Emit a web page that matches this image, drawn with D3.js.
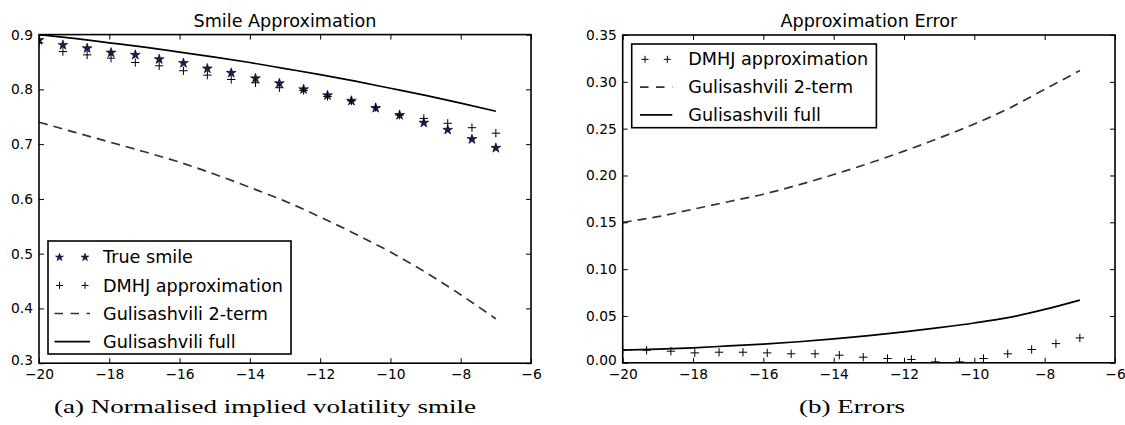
<!DOCTYPE html>
<html><head><meta charset="utf-8">
<script src="https://cdn.jsdelivr.net/npm/d3@7"></script>
<style>
body{margin:0;background:#fff;}
svg{display:block;}
text{font-family:"DejaVu Sans",sans-serif;fill:#000;}
.cap{font-family:"Liberation Serif","DejaVu Serif",serif;}
</style></head><body>
<svg id="c" width="1125" height="425"></svg>
<script>
// ---------- data ----------
const xPts = [-20, -19.32, -18.63, -17.95, -17.26, -16.58, -15.89, -15.21, -14.53, -13.84,
              -13.16, -12.47, -11.79, -11.11, -10.42, -9.74, -9.05, -8.37, -7.68, -7.0];
const trueSmile = [0.890, 0.881, 0.875, 0.867, 0.863, 0.855, 0.848, 0.838, 0.830, 0.820,
                   0.811, 0.800, 0.789, 0.779, 0.766, 0.753, 0.739, 0.726, 0.709, 0.693];
const dmhjSmile = [0.885, 0.869, 0.863, 0.857, 0.849, 0.843, 0.834, 0.826, 0.818, 0.812,
                   0.803, 0.798, 0.787, 0.779, 0.767, 0.753, 0.747, 0.738, 0.730, 0.720];
const xLine = [-20, -19, -18, -17, -16, -15, -14, -13, -12, -11, -10, -9, -8, -7];
const gul2Smile = [0.740, 0.722, 0.704, 0.686, 0.667, 0.645, 0.621, 0.596, 0.567, 0.536, 0.503, 0.466, 0.425, 0.381];
const gulFullSmile = [0.900, 0.893, 0.885, 0.877, 0.868, 0.859, 0.849, 0.838, 0.827, 0.815, 0.802, 0.789, 0.775, 0.760];
const dmhjErr = [0.014, 0.0134, 0.0124, 0.0106, 0.0113, 0.0113, 0.0106, 0.0096, 0.0096, 0.0081,
                 0.0060, 0.0046, 0.0035, 0.0010, 0.0010, 0.0046, 0.0096, 0.0142, 0.0205, 0.0266];
const gul2Err = [0.150, 0.156, 0.164, 0.172, 0.180, 0.190, 0.201, 0.213, 0.226, 0.240, 0.255, 0.272, 0.292, 0.312];
const gulFullErr = [0.0135, 0.0145, 0.016, 0.018, 0.020, 0.0225, 0.0255, 0.029, 0.033, 0.0375, 0.0425, 0.0485, 0.057, 0.067];
const xTicks = [-20, -18, -16, -14, -12, -10, -8, -6];
const yTicksA = [0.3, 0.4, 0.5, 0.6, 0.7, 0.8, 0.9];
const yTicksB = [0, 0.05, 0.10, 0.15, 0.20, 0.25, 0.30, 0.35];
const titles = ["Smile Approximation", "Approximation Error"];
const captions = ["(a) Normalised implied volatility smile", "(b) Errors"];
const legendA = ["True smile", "DMHJ approximation", "Gulisashvili 2-term", "Gulisashvili full"];
const legendB = ["DMHJ approximation", "Gulisashvili 2-term", "Gulisashvili full"];

const svg = d3.select("#c");
const fmtMinus = s => s.replace("-", "\u2212");
const starPath = d3.symbol(d3.symbolStar);

function crossPath(s){ return `M${-s},0H${s}M0,${-s}V${s}`; }

const capNodes = [];

function panel(cfg){
  const g = svg.append("g");
  const x = d3.scaleLinear().domain([-20, -6]).range([cfg.x0, cfg.x1]);
  const y = d3.scaleLinear().domain(cfg.yDom).range([cfg.y1, cfg.y0]);
  const clipId = "clip" + cfg.id;
  svg.append("clipPath").attr("id", clipId).append("rect")
    .attr("x", cfg.x0).attr("y", cfg.y0).attr("width", cfg.x1 - cfg.x0).attr("height", cfg.y1 - cfg.y0);
  const plot = g.append("g").attr("clip-path", `url(#${clipId})`);

  // lines
  const line = d3.line().x((d, i) => x(xLine[i])).y(d => y(d)).curve(d3.curveMonotoneX);
  plot.append("path").datum(cfg.dash).attr("d", line).attr("fill", "none")
    .attr("stroke", "#333").attr("stroke-width", 1.7).attr("stroke-dasharray", "9,6");
  plot.append("path").datum(cfg.solid).attr("d", line).attr("fill", "none")
    .attr("stroke", "#000").attr("stroke-width", 1.7);

  // stars
  if (cfg.stars) {
    plot.selectAll(".st").data(cfg.stars).enter().append("path")
      .attr("d", starPath.size(30)())
      .attr("transform", (d, i) => `translate(${x(xPts[i])},${y(d)})`)
      .attr("fill", "#1b1b5e").attr("stroke", "#000").attr("stroke-width", 0.6);
  }
  // pluses
  plot.selectAll(".pl").data(cfg.plus).enter().append("path")
    .attr("d", crossPath(4.2))
    .attr("transform", (d, i) => `translate(${x(xPts[i])},${y(d)})`)
    .attr("stroke", "#000").attr("stroke-width", 1).attr("fill", "none");

  // frame
  g.append("rect").attr("x", cfg.x0).attr("y", cfg.y0).attr("width", cfg.x1 - cfg.x0)
    .attr("height", cfg.y1 - cfg.y0).attr("fill", "none").attr("stroke", "#000").attr("stroke-width", 1.6);

  // axes: inward ticks on all sides
  const tl = 5;
  const fs = cfg.fs;
  const xb = g.append("g").attr("transform", `translate(0,${cfg.y1})`)
    .call(d3.axisBottom(x).tickValues(xTicks).tickSizeInner(-tl).tickSizeOuter(0).tickPadding(6).tickFormat(d => fmtMinus(String(d))));
  const xt = g.append("g").attr("transform", `translate(0,${cfg.y0})`)
    .call(d3.axisTop(x).tickValues(xTicks).tickSizeInner(-tl).tickSizeOuter(0).tickFormat(""));
  const yl = g.append("g").attr("transform", `translate(${cfg.x0},0)`)
    .call(d3.axisLeft(y).tickValues(cfg.yTicks).tickSizeInner(-tl).tickSizeOuter(0).tickPadding(6).tickFormat(cfg.yFmt));
  const yr = g.append("g").attr("transform", `translate(${cfg.x1},0)`)
    .call(d3.axisRight(y).tickValues(cfg.yTicks).tickSizeInner(-tl).tickSizeOuter(0).tickFormat(""));
  [xb, xt, yl, yr].forEach(a => {
    a.select(".domain").remove();
    a.selectAll("line").attr("stroke", "#000").attr("stroke-width", 1);
    a.selectAll("text").attr("font-family", "DejaVu Sans").attr("font-size", fs).attr("fill", "#111");
  });
  // lowest y label sits slightly above its tick so it clears the x labels
  yl.selectAll("text").filter(d => d === cfg.yDom[0]).attr("dy", "0.1em");

  // title
  g.append("text").attr("x", (cfg.x0 + cfg.x1) / 2).attr("y", 27)
    .attr("text-anchor", "middle").attr("font-size", 17.6).attr("fill", "#111").text(cfg.title);

  // caption
  const cap = g.append("text").attr("class", "cap").attr("x", cfg.capX).attr("y", 413)
    .attr("text-anchor", "middle").attr("font-size", 19).text(cfg.caption);
  capNodes.push(cap);

  // legend
  const L = cfg.leg;
  g.append("rect").attr("x", L.x).attr("y", L.y).attr("width", L.w).attr("height", L.h)
    .attr("fill", "#fff").attr("stroke", "#000").attr("stroke-width", 1.6);
  L.items.forEach((name, i) => {
    const cy = L.y + L.first + i * L.step;
    const type = L.types[i];
    const lg = g.append("g");
    if (type === "star") {
      [L.m1, L.m2].forEach(mx => lg.append("path").attr("d", starPath.size(20)())
        .attr("transform", `translate(${mx},${cy})`).attr("fill", "#1b1b5e").attr("stroke", "#000").attr("stroke-width", 0.5));
    } else if (type === "plus") {
      [L.m1, L.m2].forEach(mx => lg.append("path").attr("d", crossPath(3.5))
        .attr("transform", `translate(${mx},${cy})`).attr("stroke", "#000").attr("stroke-width", 1));
    } else if (type === "dash") {
      lg.append("line").attr("x1", L.m1 - 5).attr("x2", L.m2 + 5).attr("y1", cy).attr("y2", cy)
        .attr("stroke", "#333").attr("stroke-width", 1.7).attr("stroke-dasharray", "8.5,7.5");
    } else {
      lg.append("line").attr("x1", L.m1 - 5).attr("x2", L.m2 + 5).attr("y1", cy).attr("y2", cy)
        .attr("stroke", "#000").attr("stroke-width", 1.7);
    }
    lg.append("text").attr("x", L.tx).attr("y", cy).attr("dy", "0.35em")
      .attr("font-size", L.fs).attr("fill", "#111").text(name);
  });
}

panel({
  id: "A", x0: 39, x1: 531, y0: 34.6, y1: 363.2, yDom: [0.3, 0.9], yTicks: yTicksA,
  yFmt: d3.format(".1f"), fs: 13.8, title: titles[0], caption: captions[0], capX: 265,
  stars: trueSmile, plus: dmhjSmile, dash: gul2Smile, solid: gulFullSmile,
  leg: { x: 48, y: 241, w: 243, h: 113, first: 16.3, step: 28.1, m1: 59.5, m2: 85, tx: 103,
         fs: 17.6, items: legendA, types: ["star", "plus", "dash", "solid"] }
});
panel({
  id: "B", x0: 622.7, x1: 1115, y0: 35, y1: 362.8, yDom: [0, 0.35], yTicks: yTicksB,
  yFmt: d3.format(".2f"), fs: 13.8, title: titles[1], caption: captions[1], capX: 852,
  stars: null, plus: dmhjErr, dash: gul2Err, solid: gulFullErr,
  leg: { x: 631.7, y: 44, w: 244.7, h: 83.7, first: 15.3, step: 27.8, m1: 645, m2: 667.3, tx: 688.3,
         fs: 17.6, items: legendB, types: ["plus", "dash", "solid"] }
});

// stretch captions horizontally (wide serif look) so the long one spans its measured width
const ratio = 422 / capNodes[0].node().getComputedTextLength();
capNodes.forEach(c => {
  const w = c.node().getComputedTextLength();
  c.attr("textLength", w * ratio).attr("lengthAdjust", "spacingAndGlyphs");
});
</script>
</body></html>
